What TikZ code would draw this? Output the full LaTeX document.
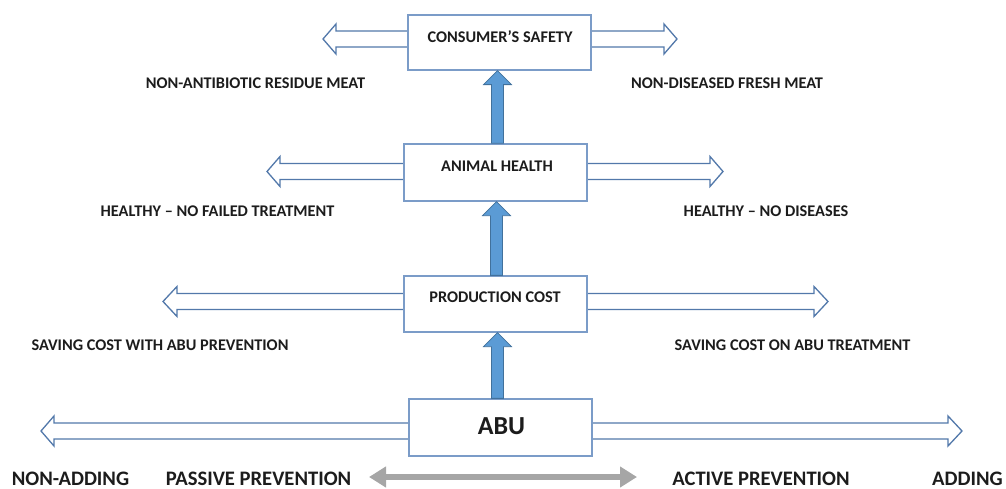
\documentclass[tikz,border=0pt]{standalone}
\usepackage{fontspec}
\setmainfont{Carlito}
\usetikzlibrary{calc,arrows.meta}

\definecolor{boxline}{HTML}{7B9CC8}
\definecolor{arrline}{HTML}{5278AA}
\definecolor{fatfill}{HTML}{5B9BD5}
\definecolor{fatline}{HTML}{41719C}
\definecolor{spread}{HTML}{A6A6A6}
\definecolor{ink}{HTML}{1C1C1C}

% hollow side arrow: #1 start on box edge, #2 tip, #3 signed head length
\newcommand{\sidearrow}[3]{%
  \draw[openarr] ($(#1)+(0,8)$) -- ($(#2)+(#3,8)$) -- ($(#2)+(#3,15)$) -- (#2)
    -- ($(#2)+(#3,-15)$) -- ($(#2)+(#3,-8)$) -- ($(#1)+(0,-8)$);}

% solid upward arrow from #1 (bottom) straight up to the level of #2
\newcommand{\risearrow}[2]{%
  \draw[fatarr] ($(#1)+(-6,0)$) -- ($(#1 |- #2)+(-6,14)$) -- ($(#1 |- #2)+(-14,14)$) -- (#1 |- #2)
    -- ($(#1 |- #2)+(14,14)$) -- ($(#1 |- #2)+(6,14)$) -- ($(#1)+(6,0)$) -- cycle;}

\tikzset{
  box/.style={draw=boxline, line width=1.3pt, fill=white, minimum width=183pt, inner sep=0pt},
  boxtext/.style={font=\bfseries\fontsize{16.3}{19}\selectfont, text=ink, inner sep=0pt},
  lbl/.style={font=\bfseries\fontsize{16.3}{19}\selectfont, text=ink, inner sep=0pt},
  bottomlbl/.style={font=\bfseries\fontsize{20.6}{24}\selectfont, text=ink, inner sep=0pt},
  openarr/.style={draw=arrline, line width=1.3pt, fill=white, line join=miter},
  fatarr/.style={draw=fatline, line width=0.8pt, fill=fatfill},
}

\begin{document}
\begin{tikzpicture}[x=1pt, y=-1pt]
\useasboundingbox (0,0) rectangle (1006,489);

% level boxes
\node[box, minimum height=55pt] (cs)  at (499.5,42.5) {};
\node[box, minimum height=57pt] (ah)  at (495.5,172.5) {};
\node[box, minimum height=56pt] (pc)  at (495.5,304) {};
\node[box, minimum height=57pt] (abu) at (500.5,427.5) {};

% arrow tips and shaft roots
\coordinate (csL) at (323,39);   \coordinate (csR) at (677,39);
\coordinate (ahL) at (267,171.5);\coordinate (ahR) at (723,171.5);
\coordinate (pcL) at (163,301.5);\coordinate (pcR) at (828,301.5);
\coordinate (abL) at (41,431);   \coordinate (abR) at (962,431);
\coordinate (csLs) at (cs.west |- csL);  \coordinate (csRs) at (cs.east |- csR);
\coordinate (ahLs) at (ah.west |- ahL);  \coordinate (ahRs) at (ah.east |- ahR);
\coordinate (pcLs) at (pc.west |- pcL);  \coordinate (pcRs) at (pc.east |- pcR);
\coordinate (abLs) at (abu.west |- abL); \coordinate (abRs) at (abu.east |- abR);

\sidearrow{csLs}{csL}{13}  \sidearrow{csRs}{csR}{-13}
\sidearrow{ahLs}{ahL}{13}  \sidearrow{ahRs}{ahR}{-13}
\sidearrow{pcLs}{pcL}{14}  \sidearrow{pcRs}{pcR}{-14}
\sidearrow{abLs}{abL}{13}  \sidearrow{abRs}{abR}{-14}

% redraw box borders over the arrow roots
\foreach \b in {cs,ah,pc,abu} \draw[draw=boxline, line width=1.3pt] (\b.south west) rectangle (\b.north east);

% upward chain
\coordinate (up1) at ($(ah.north)+(2,0)$);
\coordinate (up2) at ($(pc.north)+(1,0)$);
\coordinate (up3) at ($(abu.north)+(-3,0)$);
\risearrow{up1}{cs.south}
\risearrow{up2}{ah.south}
\risearrow{up3}{pc.south}

% box titles
\node[boxtext] (tcs) at (500,37)  {CONSUMER'S SAFETY};
\node[boxtext] (tah) at (497,166) {ANIMAL HEALTH};
\node[boxtext] (tpc) at (495,297) {PRODUCTION COST};
\node[boxtext, font=\bfseries\fontsize{26}{29}\selectfont] (tabu) at (501.5,426) {ABU};

% side labels
\node[lbl] (l1) at (255.5,83)  {NON-ANTIBIOTIC RESIDUE MEAT};
\node[lbl] (r1) at (727,83)    {NON-DISEASED FRESH MEAT};
\node[lbl] (l2) at (217.5,211) {HEALTHY – NO FAILED TREATMENT};
\node[lbl] (r2) at (766,211)   {HEALTHY – NO DISEASES};
\node[lbl] (l3) at (160,345)   {SAVING COST WITH ABU PREVENTION};
\node[lbl] (r3) at (792.5,345) {SAVING COST ON ABU TREATMENT};

% bottom scale
\node[bottomlbl] (na) at (70.5,479)  {NON-ADDING};
\node[bottomlbl] (pp) at (258.5,479) {PASSIVE PREVENTION};
\node[bottomlbl] (ap) at (761,479)   {ACTIVE PREVENTION};
\node[bottomlbl] (ad) at (967.5,479) {ADDING};
\coordinate (sL) at (369,477);
\coordinate (sR) at (637,477);
\draw[spread, line width=6pt, {Triangle[length=17pt,width=20pt]}-{Triangle[length=17pt,width=20pt]}] (sL) -- (sR);
\end{tikzpicture}
\end{document}
